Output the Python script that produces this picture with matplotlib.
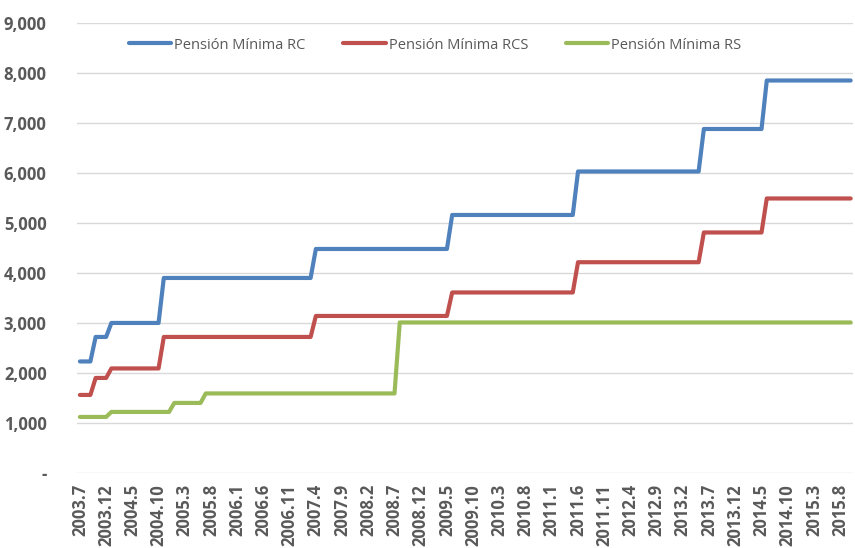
import matplotlib.pyplot as plt
from matplotlib.ticker import FuncFormatter

plt.rcParams['font.family'] = ['Open Sans', 'DejaVu Sans']

# monthly data, 2003.7 .. 2015.10
months = []
y, m = 2003, 7
for i in range(148):
    months.append('%d.%d' % (y, m))
    m += 1
    if m > 12:
        m = 1
        y += 1

rc = [2230]*3 + [2720]*3 + [3000]*10 + [3900]*29 + [4480]*26 + [5160]*24 + [6030]*24 + [6880]*12 + [7850]*17
rcs = [1560]*3 + [1900]*3 + [2090]*10 + [2720]*29 + [3140]*26 + [3610]*24 + [4215]*24 + [4810]*12 + [5490]*17
rs = [1120]*6 + [1220]*12 + [1400]*6 + [1590]*37 + [3010]*87

labels = ['Pensión Mínima RC', 'Pensión Mínima RCS', 'Pensión Mínima RS']
colors = ['#4F81BD', '#C0504D', '#9BBB59']

fig = plt.figure(figsize=(8.55, 5.48), dpi=100)
ax = fig.add_axes([0.0904, 0.137, 0.9076, 0.821])

x = list(range(len(months)))
for vals, lab, col in zip([rc, rcs, rs], labels, colors):
    ax.plot(x, vals, color=col, lw=3, label=lab, solid_capstyle='round', solid_joinstyle='round')

ax.set_xlim(-0.5, len(months) - 0.5)
ax.set_ylim(0, 9000)
ax.set_yticks(range(0, 9001, 1000))
ax.yaxis.set_major_formatter(FuncFormatter(lambda v, p: '-' if v == 0 else '{:,.0f}'.format(v)))
ax.set_xticks(x[::5])
ax.set_xticklabels(months[::5], rotation=90)

for s in ax.spines.values():
    s.set_visible(False)
ax.grid(axis='y', color='#d9d9d9', lw=1)
ax.set_axisbelow(True)
ax.tick_params(length=0, colors='#595959', labelsize=12)
ax.tick_params(axis='y', pad=22)
ax.tick_params(axis='x', pad=8)
for t in ax.get_xticklabels() + ax.get_yticklabels():
    t.set_fontweight('bold')

leg = ax.legend(loc='center', bbox_to_anchor=(0.461, 0.951), ncol=3, frameon=False,
                fontsize=10.5, handlelength=2.9, handletextpad=0.2, columnspacing=2.6)
for t in leg.get_texts():
    t.set_color('#595959')

fig.savefig('out.png')
